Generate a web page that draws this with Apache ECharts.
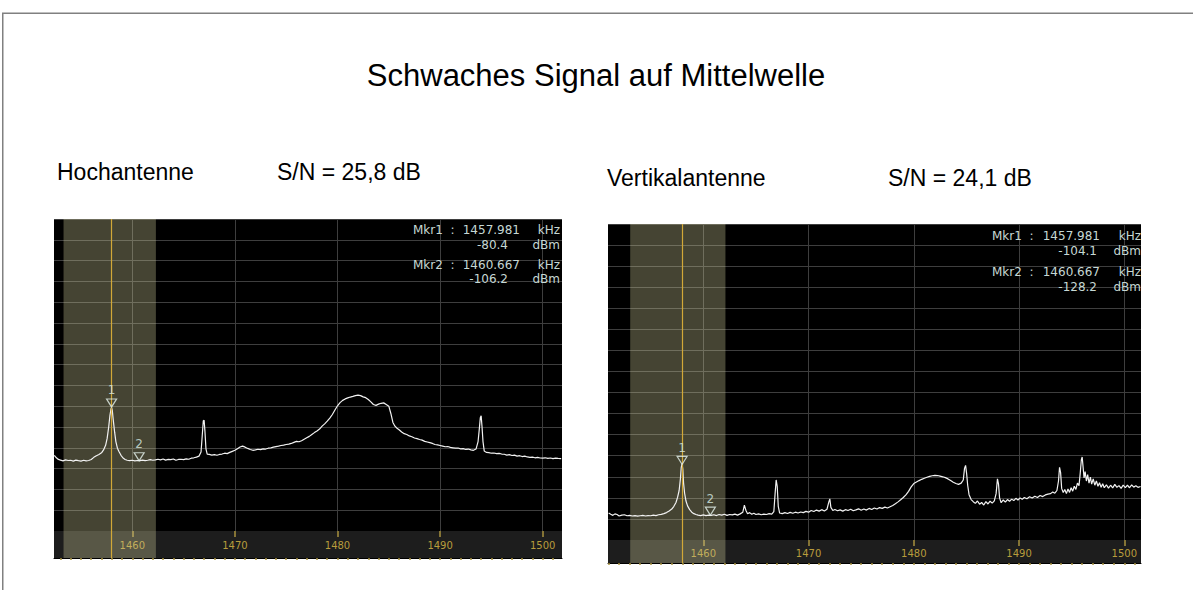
<!DOCTYPE html>
<html>
<head>
<meta charset="utf-8">
<script src="https://cdn.jsdelivr.net/npm/echarts@6/dist/echarts.min.js"></script>
<style>
html,body{margin:0;padding:0;background:#fff;}
#chart{width:1193px;height:590px;}
</style>
</head>
<body>
<div id="chart"></div>
<script>
// Spektrum Hochantenne [kHz, dBm]
var hochTrace = [
  [1452.40,-103.6],[1452.60,-104.8],[1452.80,-105.6],[1453.00,-105.9],[1453.25,-106.3],[1453.50,-105.8],
  [1453.75,-106.1],[1454.00,-106.0],[1454.25,-106.4],[1454.50,-105.9],[1454.75,-106.2],[1455.00,-106.4],
  [1455.25,-106.0],[1455.50,-106.3],[1455.75,-106.1],[1456.00,-105.6],[1456.25,-104.6],[1456.50,-103.8],
  [1456.75,-103.2],[1457.00,-102.4],[1457.20,-101.0],[1457.40,-98.8],[1457.55,-95.5],[1457.70,-90.0],
  [1457.82,-84.5],[1457.93,-81.2],[1457.98,-80.6],[1458.05,-82.0],[1458.15,-86.8],[1458.28,-92.5],
  [1458.40,-97.0],[1458.55,-100.2],[1458.70,-101.8],[1458.90,-103.6],[1459.10,-104.9],[1459.30,-105.6],
  [1459.50,-106.0],[1459.75,-106.2],[1460.00,-106.0],[1460.25,-106.3],[1460.50,-106.1],[1460.75,-106.2],
  [1461.00,-105.9],[1461.25,-106.2],[1461.50,-106.0],[1461.75,-105.7],[1462.00,-106.0],[1462.25,-105.8],
  [1462.50,-105.5],[1462.75,-105.8],[1463.00,-105.4],[1463.25,-105.9],[1463.50,-105.6],[1463.75,-105.7],
  [1464.00,-105.4],[1464.25,-106.0],[1464.50,-105.6],[1464.75,-105.5],[1465.00,-105.7],[1465.25,-105.3],
  [1465.50,-105.5],[1465.75,-105.0],[1466.00,-104.8],[1466.25,-104.5],[1466.50,-104.0],[1466.70,-102.0],
  [1466.82,-94.0],[1466.92,-87.0],[1467.00,-86.8],[1467.08,-92.0],[1467.18,-100.5],[1467.30,-103.0],
  [1467.50,-103.2],[1467.75,-103.5],[1468.00,-103.3],[1468.25,-103.6],[1468.50,-103.2],[1468.75,-103.0],
  [1469.00,-102.6],[1469.25,-102.8],[1469.50,-102.2],[1469.75,-101.7],[1470.00,-101.2],[1470.25,-100.4],
  [1470.50,-99.6],[1470.75,-99.2],[1471.00,-99.7],[1471.25,-100.3],[1471.50,-100.8],[1471.75,-101.2],
  [1472.00,-101.0],[1472.25,-100.7],[1472.50,-100.9],[1472.75,-100.5],[1473.00,-100.6],[1473.25,-100.2],
  [1473.50,-100.0],[1473.75,-99.7],[1474.00,-99.4],[1474.25,-99.2],[1474.50,-98.9],[1474.75,-98.7],
  [1475.00,-98.4],[1475.25,-98.2],[1475.50,-97.9],[1475.75,-97.4],[1476.00,-96.9],[1476.25,-97.1],
  [1476.50,-96.6],[1476.75,-95.9],[1477.00,-95.2],[1477.25,-94.5],[1477.50,-93.6],[1477.75,-92.7],
  [1478.00,-91.9],[1478.25,-91.0],[1478.50,-89.6],[1478.75,-88.5],[1479.00,-87.2],[1479.25,-85.7],
  [1479.50,-84.0],[1479.75,-81.8],[1480.00,-79.8],[1480.25,-78.3],[1480.50,-77.2],[1480.75,-76.5],
  [1481.00,-76.0],[1481.25,-75.6],[1481.50,-75.3],[1481.75,-74.9],[1482.00,-74.7],[1482.25,-74.9],
  [1482.50,-75.5],[1482.75,-75.9],[1483.00,-76.8],[1483.25,-77.9],[1483.50,-79.2],[1483.75,-79.6],
  [1484.00,-79.0],[1484.25,-78.6],[1484.50,-78.4],[1484.75,-79.2],[1485.00,-80.0],[1485.20,-83.5],
  [1485.40,-87.8],[1485.60,-89.6],[1485.80,-90.6],[1486.00,-91.3],[1486.25,-92.4],[1486.50,-93.2],
  [1486.75,-93.6],[1487.00,-94.3],[1487.25,-94.7],[1487.50,-95.3],[1487.75,-95.6],[1488.00,-96.0],
  [1488.25,-96.3],[1488.50,-96.9],[1488.75,-97.2],[1489.00,-97.5],[1489.25,-97.9],[1489.50,-98.4],
  [1489.75,-98.6],[1490.00,-98.9],[1490.25,-99.2],[1490.50,-99.5],[1490.75,-99.4],[1491.00,-99.8],
  [1491.25,-100.0],[1491.50,-100.2],[1491.75,-100.1],[1492.00,-100.5],[1492.25,-100.4],[1492.50,-100.8],
  [1492.75,-100.6],[1493.00,-101.0],[1493.25,-101.2],[1493.50,-100.6],[1493.70,-97.0],[1493.82,-91.0],
  [1493.92,-85.5],[1494.00,-84.6],[1494.08,-89.5],[1494.18,-97.0],[1494.30,-101.5],[1494.50,-102.2],
  [1494.75,-102.3],[1495.00,-102.6],[1495.25,-102.5],[1495.50,-102.8],[1495.75,-102.7],[1496.00,-103.0],
  [1496.25,-103.1],[1496.50,-103.5],[1496.75,-103.3],[1497.00,-103.7],[1497.25,-103.5],[1497.50,-104.0],
  [1497.75,-103.8],[1498.00,-104.2],[1498.25,-104.0],[1498.50,-104.4],[1498.75,-104.6],[1499.00,-104.5],
  [1499.25,-104.8],[1499.50,-104.6],[1499.75,-104.9],[1500.00,-105.0],[1500.25,-104.8],[1500.50,-105.1],
  [1500.75,-104.9],[1501.00,-105.2],[1501.25,-105.0],[1501.50,-105.1],[1501.80,-105.2]
];

// Spektrum Vertikalantenne [kHz, dBm]
var vertTrace = [
  [1451.00,-127.2],[1451.20,-127.8],[1451.40,-128.3],[1451.60,-127.6],[1451.80,-127.9],[1452.00,-128.6],
  [1452.25,-128.2],[1452.50,-128.0],[1452.75,-128.5],[1453.00,-128.3],[1453.25,-128.6],[1453.50,-128.4],
  [1453.75,-128.7],[1454.00,-128.5],[1454.25,-128.3],[1454.50,-128.6],[1454.75,-128.4],[1455.00,-128.5],
  [1455.25,-128.2],[1455.50,-128.4],[1455.75,-128.0],[1456.00,-127.8],[1456.25,-127.5],[1456.50,-127.0],
  [1456.75,-126.2],[1457.00,-125.3],[1457.20,-124.0],[1457.40,-122.2],[1457.55,-119.8],[1457.70,-116.5],
  [1457.82,-111.0],[1457.90,-105.5],[1457.98,-103.8],[1458.05,-106.5],[1458.12,-113.0],[1458.22,-117.8],
  [1458.35,-121.5],[1458.50,-123.8],[1458.70,-125.6],[1458.90,-126.8],[1459.10,-127.5],[1459.30,-127.9],
  [1459.50,-128.2],[1459.75,-128.4],[1460.00,-128.1],[1460.25,-128.4],[1460.50,-128.2],[1460.75,-128.3],
  [1461.00,-128.0],[1461.25,-128.4],[1461.50,-127.9],[1461.75,-128.2],[1462.00,-127.8],[1462.25,-128.3],
  [1462.50,-127.9],[1462.75,-128.1],[1463.00,-127.7],[1463.25,-128.2],[1463.50,-127.6],[1463.75,-126.8],
  [1463.90,-123.5],[1464.05,-126.0],[1464.20,-127.5],[1464.40,-127.0],[1464.60,-127.8],[1464.80,-127.3],
  [1465.00,-127.9],[1465.25,-127.6],[1465.50,-128.0],[1465.75,-127.7],[1466.00,-127.9],[1466.25,-127.5],
  [1466.50,-127.7],[1466.70,-126.5],[1466.82,-118.0],[1466.92,-111.5],[1467.02,-114.5],[1467.12,-124.0],
  [1467.25,-127.2],[1467.50,-127.5],[1467.75,-127.0],[1468.00,-127.4],[1468.25,-126.9],[1468.50,-127.3],
  [1468.75,-126.8],[1469.00,-127.2],[1469.25,-126.7],[1469.50,-127.0],[1469.75,-126.4],[1470.00,-126.8],
  [1470.25,-126.0],[1470.50,-126.5],[1470.75,-125.8],[1471.00,-126.3],[1471.25,-125.6],[1471.50,-126.2],
  [1471.75,-125.4],[1471.92,-122.0],[1472.02,-120.5],[1472.12,-124.5],[1472.30,-126.0],[1472.50,-125.5],
  [1472.75,-126.1],[1473.00,-125.7],[1473.25,-126.3],[1473.50,-125.6],[1473.75,-126.0],[1474.00,-125.4],
  [1474.25,-126.1],[1474.50,-125.7],[1474.75,-125.2],[1475.00,-125.9],[1475.25,-125.3],[1475.50,-125.8],
  [1475.75,-125.0],[1476.00,-125.5],[1476.25,-124.8],[1476.50,-125.3],[1476.75,-124.6],[1477.00,-125.0],
  [1477.25,-124.4],[1477.50,-124.8],[1477.75,-124.2],[1478.00,-123.6],[1478.25,-122.8],[1478.50,-121.9],
  [1478.75,-120.9],[1479.00,-119.8],[1479.25,-118.6],[1479.50,-116.9],[1479.75,-114.8],[1480.00,-113.2],
  [1480.25,-112.5],[1480.50,-111.8],[1480.75,-111.2],[1481.00,-110.7],[1481.25,-110.2],[1481.50,-109.8],
  [1481.75,-109.5],[1482.00,-109.3],[1482.25,-109.4],[1482.50,-109.7],[1482.75,-110.0],[1483.00,-110.4],
  [1483.25,-111.0],[1483.50,-111.8],[1483.75,-112.6],[1484.00,-113.2],[1484.25,-113.6],[1484.50,-113.0],
  [1484.70,-111.5],[1484.82,-106.0],[1484.92,-104.6],[1485.02,-108.5],[1485.12,-114.0],[1485.25,-118.5],
  [1485.45,-120.8],[1485.65,-121.8],[1485.85,-122.6],[1486.05,-121.5],[1486.25,-123.0],[1486.45,-122.2],
  [1486.65,-123.4],[1486.85,-121.8],[1487.05,-122.9],[1487.25,-121.6],[1487.45,-122.5],[1487.65,-121.4],
  [1487.82,-118.0],[1487.95,-111.0],[1488.05,-113.5],[1488.15,-120.0],[1488.30,-122.3],[1488.50,-121.0],
  [1488.70,-122.0],[1488.90,-120.8],[1489.10,-121.6],[1489.30,-120.6],[1489.50,-121.3],[1489.70,-120.2],
  [1489.90,-121.0],[1490.10,-120.0],[1490.30,-120.7],[1490.50,-119.8],[1490.75,-120.4],[1491.00,-119.5],
  [1491.25,-120.1],[1491.50,-119.2],[1491.75,-119.8],[1492.00,-118.9],[1492.25,-119.4],[1492.50,-118.6],
  [1492.75,-118.2],[1493.00,-118.0],[1493.20,-117.2],[1493.40,-117.8],[1493.60,-116.5],[1493.75,-112.0],
  [1493.85,-105.5],[1493.95,-108.0],[1494.05,-115.5],[1494.20,-117.5],[1494.35,-116.0],[1494.50,-118.0],
  [1494.65,-115.8],[1494.80,-117.4],[1494.95,-115.2],[1495.10,-116.8],[1495.25,-114.5],[1495.40,-116.0],
  [1495.55,-113.0],[1495.70,-114.2],[1495.82,-108.0],[1495.92,-102.0],[1496.00,-100.6],[1496.08,-105.0],
  [1496.18,-110.5],[1496.28,-107.5],[1496.40,-112.0],[1496.52,-109.0],[1496.65,-113.0],[1496.78,-110.2],
  [1496.90,-113.5],[1497.05,-111.0],[1497.20,-114.0],[1497.35,-112.0],[1497.50,-114.5],[1497.65,-112.8],
  [1497.80,-115.0],[1497.95,-113.3],[1498.10,-115.2],[1498.30,-113.8],[1498.50,-115.4],[1498.70,-114.0],
  [1498.90,-115.3],[1499.10,-113.6],[1499.30,-115.0],[1499.50,-114.2],[1499.70,-115.5],[1499.90,-113.9],
  [1500.10,-115.1],[1500.30,-114.0],[1500.50,-115.2],[1500.70,-113.8],[1500.90,-114.9],[1501.10,-114.3],
  [1501.30,-115.0],[1501.55,-114.6]
];

var hochMarkers = [[1457.981, -80.4], [1460.667, -106.2]];
var vertMarkers = [[1457.981, -104.1], [1460.667, -128.2]];
var markerNames = ['1', '2'];
var hochBand = [1453.3, 1462.3];
var vertBand = [1453.05, 1462.1];
var hochRange = [1452.37, 1501.88];
var vertRange = [1450.94, 1501.59];
var levelRange = [-140, 10];
var freqLabels = [1460, 1470, 1480, 1490, 1500];
var minorTicks = [];
for (var k = 1451; k <= 1501; k++) minorTicks.push(k);

var chart = echarts.init(document.getElementById('chart'), null, {renderer: 'svg'});

var gold = '#d2a838';
var shade = 'rgba(215,210,160,0.32)';

function mainX(gi, range) {
  return {
    gridIndex: gi, type: 'value', min: range[0], max: range[1],
    axisLine: {show: false}, axisTick: {show: false}, axisLabel: {show: false},
    splitLine: {show: true, showMinLine: false, showMaxLine: false, lineStyle: {color: '#3e3e3e', width: 1}}
  };
}
function stripX(gi, range, margin) {
  return {
    gridIndex: gi, type: 'value', min: range[0], max: range[1], position: 'top',
    axisLine: {show: true, lineStyle: {color: '#000', width: 1}},
    axisTick: {show: true, inside: true, length: 2, customValues: minorTicks, lineStyle: {color: '#a8923e', width: 1.5}},
    axisLabel: {show: true, inside: true, margin: margin, customValues: freqLabels,
      formatter: function (v) { return String(v); },
      color: '#b89c3c', fontSize: 10, fontFamily: 'DejaVu Sans'},
    splitLine: {show: false}
  };
}
function majorX(gi, range) {
  return {
    gridIndex: gi, type: 'value', min: range[0], max: range[1], position: 'top',
    axisLine: {show: false},
    axisTick: {show: true, inside: true, length: 6, customValues: freqLabels, lineStyle: {color: '#a8923e', width: 1.5}},
    axisLabel: {show: false}, splitLine: {show: false}
  };
}
function mainY(gi) {
  return {
    gridIndex: gi, type: 'value', min: levelRange[0], max: levelRange[1], interval: 10,
    axisLine: {show: false}, axisTick: {show: false}, axisLabel: {show: false},
    splitLine: {show: true, showMinLine: false, lineStyle: {color: '#3e3e3e', width: 1}}
  };
}
function stripY(gi) {
  return {gridIndex: gi, type: 'value', min: 0, max: 1, show: false};
}
function band(b) {
  return {silent: true, z: 1, itemStyle: {color: shade}, data: [[{xAxis: b[0]}, {xAxis: b[1]}]]};
}
function mline(f) {
  return {silent: true, z: 6, symbol: 'none', label: {show: false},
    lineStyle: {color: gold, width: 1.2, type: 'solid', opacity: 1}, data: [{xAxis: f}]};
}
function traceSeries(xi, yi, data, b, f) {
  return {type: 'line', xAxisIndex: xi, yAxisIndex: yi, data: data, showSymbol: false, symbol: 'none',
    lineStyle: {color: '#f2f2f2', width: 1.2}, animation: false, z: 3,
    markArea: band(b), markLine: mline(f)};
}
function markerSeries(xi, yi, pts) {
  return {type: 'scatter', xAxisIndex: xi, yAxisIndex: yi, z: 7, animation: false,
    data: pts.map(function (p, i) { return {value: p, name: markerNames[i]}; }),
    symbol: 'triangle', symbolRotate: 180, symbolSize: [10, 8], symbolOffset: [0, -4],
    itemStyle: {color: 'rgba(0,0,0,0)', borderColor: '#e6f4ee', borderWidth: 1.2},
    label: {show: true, position: 'top', distance: 2, formatter: '{b}', color: '#d6ece4', fontSize: 12, fontFamily: 'DejaVu Sans'}};
}
function stripSeries(xi, yi, b, f) {
  return {type: 'line', xAxisIndex: xi, yAxisIndex: yi, data: [], animation: false,
    markArea: band(b), markLine: mline(f)};
}

function txt(s, x, y, size, color, align, family) {
  return {type: 'text', silent: true, z: 100, style: {text: s, x: x, y: y, fill: color,
    fontSize: size, fontFamily: family || 'Liberation Sans', align: align || 'left', verticalAlign: 'middle'}};
}
var mk = '#c6d8d4';
var mono = 'DejaVu Sans';

var option = {
  backgroundColor: '#fff',
  animation: false,
  grid: [
    {left: 54, top: 219, width: 508, height: 312, show: true, backgroundColor: '#000', borderWidth: 0},
    {left: 54, top: 531, width: 508, height: 27, show: true, backgroundColor: '#1d1d1d', borderWidth: 0},
    {left: 608, top: 224, width: 533, height: 316, show: true, backgroundColor: '#000', borderWidth: 0},
    {left: 608, top: 540, width: 533, height: 23, show: true, backgroundColor: '#1d1d1d', borderWidth: 0}
  ],
  xAxis: [
    mainX(0, hochRange), stripX(1, hochRange, 9), majorX(1, hochRange),
    mainX(2, vertRange), stripX(3, vertRange, 8), majorX(3, vertRange)
  ],
  yAxis: [mainY(0), stripY(1), mainY(2), stripY(3)],
  series: [
    traceSeries(0, 0, hochTrace, hochBand, hochMarkers[0][0]),
    markerSeries(0, 0, hochMarkers),
    stripSeries(1, 1, hochBand, hochMarkers[0][0]),
    traceSeries(3, 2, vertTrace, vertBand, vertMarkers[0][0]),
    markerSeries(3, 2, vertMarkers),
    stripSeries(4, 3, vertBand, vertMarkers[0][0])
  ],
  graphic: [
    {type: 'rect', silent: true, z: 100, shape: {x: 2.75, y: 13.25, width: 1400, height: 800},
      style: {fill: 'none', stroke: '#808080', lineWidth: 1.5}},
    txt('Schwaches Signal auf Mittelwelle', 596, 75, 31, '#000', 'center'),
    txt('Hochantenne', 57, 172, 23, '#000'),
    txt('S/N = 25,8 dB', 277, 172, 23, '#000'),
    txt('Vertikalantenne', 607, 178, 23, '#000'),
    txt('S/N = 24,1 dB', 888, 178, 23, '#000'),

    txt('Mkr1  :', 413, 230, 12, mk, 'left', mono),
    txt('1457.981', 520, 230, 12, mk, 'right', mono),
    txt('kHz', 560, 230, 12, mk, 'right', mono),
    txt('-80.4', 508, 244.5, 12, mk, 'right', mono),
    txt('dBm', 560, 244.5, 12, mk, 'right', mono),
    txt('Mkr2  :', 413, 265, 12, mk, 'left', mono),
    txt('1460.667', 520, 265, 12, mk, 'right', mono),
    txt('kHz', 560, 265, 12, mk, 'right', mono),
    txt('-106.2', 508, 279, 12, mk, 'right', mono),
    txt('dBm', 560, 279, 12, mk, 'right', mono),

    txt('Mkr1  :', 992, 235.5, 12, mk, 'left', mono),
    txt('1457.981', 1100, 235.5, 12, mk, 'right', mono),
    txt('kHz', 1141, 235.5, 12, mk, 'right', mono),
    txt('-104.1', 1097, 250.5, 12, mk, 'right', mono),
    txt('dBm', 1141, 250.5, 12, mk, 'right', mono),
    txt('Mkr2  :', 992, 271.5, 12, mk, 'left', mono),
    txt('1460.667', 1100, 271.5, 12, mk, 'right', mono),
    txt('kHz', 1141, 271.5, 12, mk, 'right', mono),
    txt('-128.2', 1097, 286.5, 12, mk, 'right', mono),
    txt('dBm', 1141, 286.5, 12, mk, 'right', mono)
  ]
};

chart.setOption(option);
</script>
</body>
</html>
